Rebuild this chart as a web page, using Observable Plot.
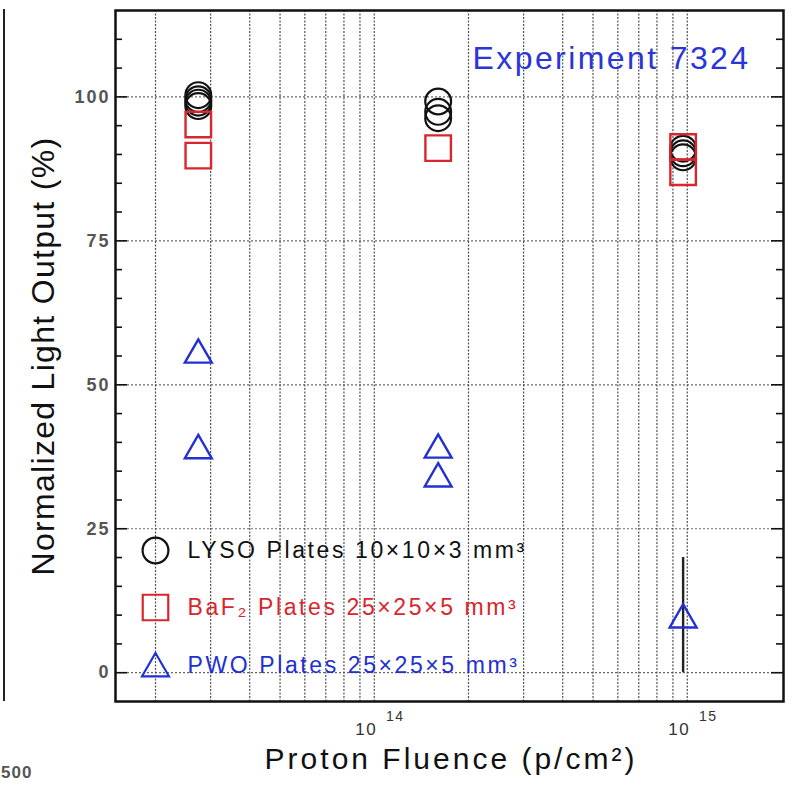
<!DOCTYPE html>
<html><head><meta charset="utf-8">
<script src="https://cdn.jsdelivr.net/npm/d3@7"></script>
<script src="https://cdn.jsdelivr.net/npm/@observablehq/plot@0.6"></script>
<style>
body{margin:0;background:#fff;}
#wrap{position:relative;width:794px;height:785px;overflow:hidden;background:#fff;}
#edge{position:absolute;z-index:2;left:0;top:9px;width:3px;height:692px;border-right:2px solid #222;}
#edgeLabel{position:absolute;z-index:2;left:1px;top:764px;font-family:"Liberation Sans",Arial,sans-serif;font-size:17px;font-weight:bold;color:#555;letter-spacing:1px;line-height:18px;}
</style></head><body><div id="wrap"><div id="edge"></div><div id="edgeLabel">500</div></div>
<script>
// ---- data ----
const lysoX = [2.74e13, 2.74e13, 2.74e13, 2.74e13, 1.6e14, 1.6e14, 1.6e14, 9.7e14, 9.7e14, 9.7e14];
const lysoY = [100.3, 99.6, 99.0, 98.4, 99.2, 97.4, 96.3, 91.0, 90.2, 89.5];
const bafX  = [2.74e13, 2.74e13, 1.6e14, 9.7e14, 9.7e14];
const bafY  = [95.2, 89.8, 91.1, 91.3, 86.9];
const pwoX  = [2.74e13, 2.74e13, 1.6e14, 1.6e14, 9.7e14];
const pwoY  = [55.2, 38.6, 38.7, 33.7, 9.2];
const errX    = [9.7e14];
const errLow  = [0];
const errHigh = [20];

const xGrid  = [2e13,3e13,4e13,5e13,6e13,7e13,8e13,9e13,1e14,2e14,3e14,4e14,5e14,6e14,7e14,8e14,9e14,1e15];
const xMajor = [1e14, 1e15];
const xExp   = ["14", "15"];
const yMajor = [0, 25, 50, 75, 100];
const yMinor = [5,10,15,20,30,35,40,45,55,60,65,70,80,85,90,95,105,110];

const legendLabels  = ["LYSO Plates 10×10×3 mm³", "BaF₂ Plates 25×25×5 mm³", "PWO Plates 25×25×5 mm³"];
const legendSymbols = ["circle", "square", "triangle"];
const legendColors  = ["#111111", "#d8262e", "#2230d2"];
const xLabel = "Proton Fluence (p/cm²)";
const yLabel = "Normalized Light Output (%)";
const expLabel = "Experiment 7324";

// ---- layout ----
const W = 794, H = 785, mL = 115, mR = 11, mT = 10, mB = 84;
const innerW = W - mL - mR;
const rSym = {circle: 12.9, square: 14.4, triangle: 10.0};
const legendDy = [-151, -94, -33];
const legendTextDy = [-144, -87, -29];

const lyso = lysoX.map((x, i) => ({x, y: lysoY[i]}));
const baf = bafX.map((x, i) => ({x, y: bafY[i]}));
const pwo = pwoX.map((x, i) => ({x, y: pwoY[i]}));
const err = errX.map((x, i) => ({x, lo: errLow[i], hi: errHigh[i]}));

const legendMarks = [];
legendLabels.forEach((lab, i) => {
  legendMarks.push(Plot.dot([lab], {frameAnchor: "bottom-left", dx: 40, dy: legendDy[i],
    symbol: legendSymbols[i], r: rSym[legendSymbols[i]], fill: "none",
    stroke: legendColors[i], strokeWidth: 2.2}));
  legendMarks.push(Plot.text([lab], {frameAnchor: "bottom-left", dx: 72, dy: legendTextDy[i],
    text: d => d, textAnchor: "start", lineAnchor: "bottom", fontSize: 23,
    fill: legendColors[i], ariaDescription: "legend-text"}));
});

const chart = Plot.plot({
  width: W, height: H,
  marginLeft: mL, marginRight: mR, marginTop: mT, marginBottom: mB,
  style: {fontFamily: '"Liberation Sans", Arial, sans-serif', background: "transparent", color: "#111"},
  x: {type: "log", domain: [1.49e13, 2.03e15], axis: null},
  y: {domain: [-5, 115], axis: null},
  marks: [
    Plot.ruleX(xGrid, {x: d => d, stroke: "#333", strokeWidth: 1.2, strokeDasharray: "2,1.5", strokeOpacity: 0.85}),
    Plot.ruleY(yMajor, {y: d => d, stroke: "#444", strokeWidth: 1.2, strokeDasharray: "2,2", strokeOpacity: 0.8}),
    Plot.tickY(yMinor, {y: d => d, insetRight: innerW - 7, stroke: "#111", strokeWidth: 1.6}),
    Plot.tickY(yMinor, {y: d => d, insetLeft: innerW - 7, stroke: "#111", strokeWidth: 1.6}),
    Plot.tickY(yMajor, {y: d => d, insetRight: innerW - 12, stroke: "#111", strokeWidth: 1.6}),
    Plot.tickY(yMajor, {y: d => d, insetLeft: innerW - 12, stroke: "#111", strokeWidth: 1.6}),
    Plot.frame({stroke: "#111", strokeWidth: 2.5}),
    // y tick labels
    Plot.text(yMajor, {y: d => d, frameAnchor: "left", dx: -5, text: d => String(d), textAnchor: "end",
      lineAnchor: "middle", fontSize: 18, fontWeight: "bold", fill: "#555", ariaDescription: "ytick"}),
    // x tick labels 10^n
    Plot.text(xMajor, {x: d => d, frameAnchor: "bottom", dx: -8, dy: 33, text: () => "10",
      textAnchor: "middle", lineAnchor: "bottom", fontSize: 17, fill: "#333", ariaDescription: "xtick"}),
    Plot.text(xMajor, {x: d => d, frameAnchor: "bottom", dx: 21, dy: 19, text: (d, i) => xExp[i],
      textAnchor: "middle", lineAnchor: "bottom", fontSize: 14, fill: "#333", ariaDescription: "xtick"}),
    // error bar
    Plot.ruleX(err, {x: "x", y1: "lo", y2: "hi", stroke: "#222", strokeWidth: 2.4}),
    // data
    Plot.dot(lyso, {x: "x", y: "y", symbol: "circle", r: rSym.circle, fill: "none", stroke: legendColors[0], strokeWidth: 2.2}),
    Plot.dot(baf, {x: "x", y: "y", symbol: "square", r: rSym.square, fill: "none", stroke: legendColors[1], strokeWidth: 2.4}),
    Plot.dot(pwo, {x: "x", y: "y", symbol: "triangle", r: rSym.triangle, fill: "none", stroke: legendColors[2], strokeWidth: 2.4}),
    ...legendMarks,
    Plot.text([expLabel], {frameAnchor: "top-right", dx: -33, dy: 58, text: d => d, textAnchor: "end",
      lineAnchor: "bottom", fontSize: 32, fill: "#2a35d8", ariaDescription: "exp"}),
    Plot.text([xLabel], {frameAnchor: "bottom", dx: 1.5, dy: 67, text: d => d, textAnchor: "middle",
      lineAnchor: "bottom", fontSize: 30, fill: "#111", ariaDescription: "xlabel"}),
    Plot.text([yLabel], {frameAnchor: "left", dx: -61.5, rotate: -90, text: d => d, textAnchor: "middle",
      lineAnchor: "bottom", fontSize: 32, fill: "#111", ariaDescription: "ylabel"})
  ]
});

const sel = d3.select(chart);
sel.selectAll('g[aria-description="legend-text"] text').attr("letter-spacing", "2.6px");
sel.selectAll('g[aria-description="ytick"] text').attr("letter-spacing", "2px");
sel.selectAll('g[aria-description="xtick"] text').attr("letter-spacing", "1.5px");
sel.selectAll('g[aria-description="exp"] text').attr("letter-spacing", "2.4px");
sel.selectAll('g[aria-description="xlabel"] text').attr("letter-spacing", "3px");
sel.selectAll('g[aria-description="ylabel"] text').attr("letter-spacing", "1.3px");

document.getElementById("wrap").appendChild(chart);
chart.style.position = "absolute";
chart.style.left = "0px";
chart.style.top = "0px";
chart.style.zIndex = "1";
</script></body></html>
